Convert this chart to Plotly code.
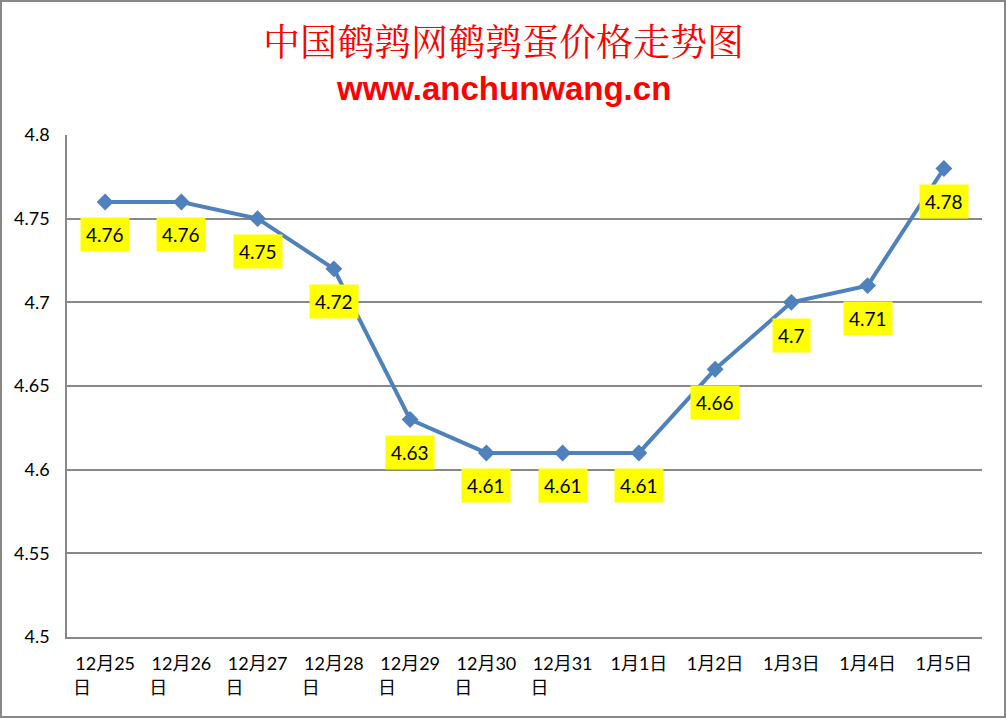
import plotly.graph_objects as go

categories = ["12月25日", "12月26日", "12月27日", "12月28日", "12月29日", "12月30日",
              "12月31日", "1月1日", "1月2日", "1月3日", "1月4日", "1月5日"]
PAD = "\u00a0" * 10
tick_labels = ["12月25<br>日" + PAD, "12月26<br>日" + PAD, "12月27<br>日" + PAD,
               "12月28<br>日" + PAD, "12月29<br>日" + PAD, "12月30<br>日" + PAD,
               "12月31<br>日" + PAD, "1月1日", "1月2日", "1月3日", "1月4日", "1月5日"]
prices = [4.76, 4.76, 4.75, 4.72, 4.63, 4.61, 4.61, 4.61, 4.66, 4.70, 4.71, 4.78]
y_ticks = [4.5, 4.55, 4.6, 4.65, 4.7, 4.75, 4.8]
y_tick_text = ["4.5", "4.55", "4.6", "4.65", "4.7", "4.75", "4.8"]

W, H = 1007, 719
L, R, T, B = 67, 25, 135, 82
pw, ph = W - L - R, H - T - B

font_fam = "Lato, 'Noto Sans CJK SC', sans-serif"

xs = list(range(len(categories)))
fig = go.Figure()
fig.add_trace(go.Scatter(
    x=xs, y=prices, mode="lines+markers",
    line=dict(color="#4F81BD", width=4),
    marker=dict(symbol="diamond", size=13, color="#4F81BD"),
    showlegend=False, hoverinfo="skip"))

for xi, v in zip(xs, prices):
    fig.add_annotation(x=xi, y=v, xref="x", yref="y", text=f"{v:g}", showarrow=False,
                       yshift=-33, bgcolor="#FFFF00", borderpad=5,
                       font=dict(family=font_fam, size=19, color="black"))

fig.add_annotation(x=(503 - L) / pw, y=(637 - 40) / ph, xref="paper", yref="paper",
                   text="中国鹌鹑网鹌鹑蛋价格走势图", showarrow=False,
                   font=dict(family="'Noto Serif CJK SC', 'Noto Sans CJK SC', serif", size=37, color="#FF0000"),
                   xanchor="center", yanchor="middle")
fig.add_annotation(x=(503 - L) / pw, y=(637 - 88) / ph, xref="paper", yref="paper",
                   text="<b>www.anchunwang.cn</b>", showarrow=False,
                   font=dict(family="'Liberation Sans', Arial, sans-serif", size=33, color="#FF0000"),
                   xanchor="center", yanchor="middle")

# outer border
fig.add_shape(type="rect", xref="paper", yref="paper",
              x0=(1 - L) / pw, x1=(W - 2 - L) / pw,
              y0=(637 - (H - 2)) / ph, y1=(637 - 1) / ph,
              line=dict(color="#888888", width=2), fillcolor="rgba(0,0,0,0)")

fig.update_layout(
    width=W, height=H,
    margin=dict(l=L, r=R, t=T, b=B),
    paper_bgcolor="white", plot_bgcolor="white",
    xaxis=dict(range=[-0.5, len(categories) - 0.5], tickvals=xs, ticktext=tick_labels,
               showgrid=False, zeroline=False, showline=True, linecolor="#888888", linewidth=1.5,
               ticks="", ticklabelstandoff=10,
               tickfont=dict(family=font_fam, size=18, color="black")),
    yaxis=dict(range=[4.5, 4.8], tickvals=y_ticks, ticktext=y_tick_text,
               showgrid=True, gridcolor="#888888", gridwidth=1.5, zeroline=False,
               showline=True, linecolor="#888888", linewidth=1.5, ticks="",
               ticklabelstandoff=12,
               tickfont=dict(family=font_fam, size=18, color="black")),
)

fig.write_html("out.html", config={"displayModeBar": False},
               post_script="document.body.style.margin='0';document.body.style.overflow='hidden';")
